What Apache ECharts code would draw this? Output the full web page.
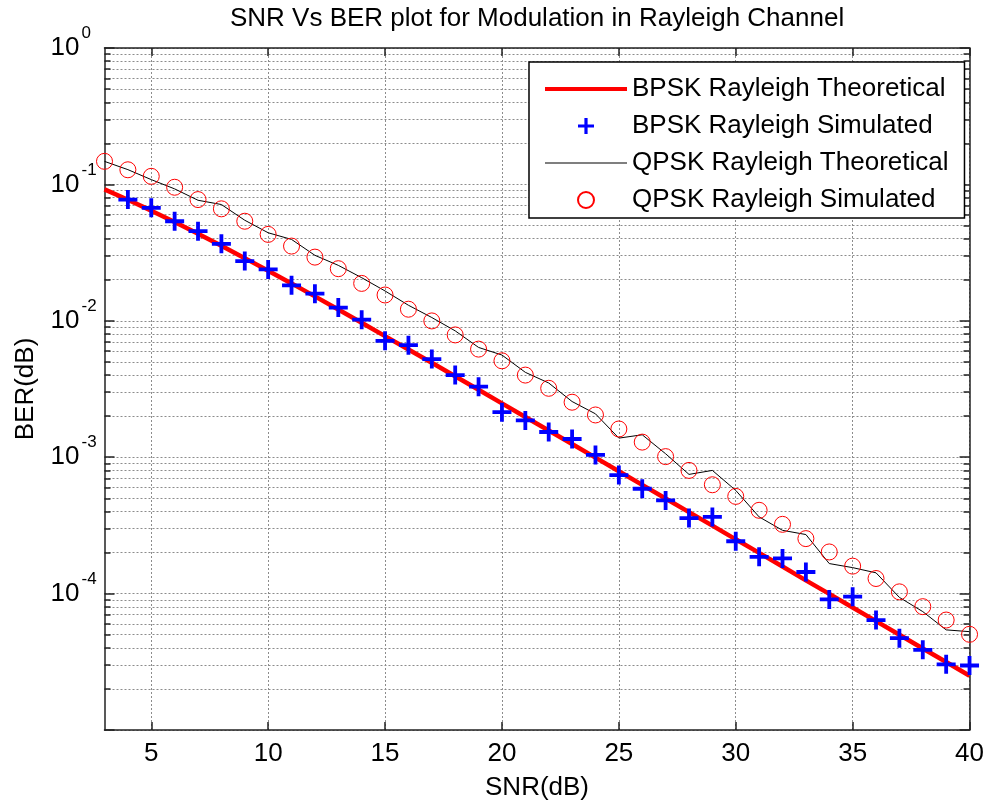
<!DOCTYPE html>
<html>
<head>
<meta charset="utf-8">
<script src="https://cdn.jsdelivr.net/npm/echarts@6/dist/echarts.min.js"></script>
<style>
  html, body { margin: 0; padding: 0; background: #fff; }
  #main { width: 987px; height: 806px; }
</style>
</head>
<body>
<div id="main"></div>
<script>
// SNR points (dB)
const snrTheory = [3, 4, 5, 6, 7, 8, 9, 10, 11, 12, 13, 14, 15, 16, 17, 18, 19, 20, 21,
  22, 23, 24, 25, 26, 27, 28, 29, 30, 31, 32, 33, 34, 35, 36, 37, 38, 39, 40];
const snrBpskSim = [4, 5, 6, 7, 8, 9, 10, 11, 12, 13, 14, 15, 16, 17, 18, 19, 20, 21,
  22, 23, 24, 25, 26, 27, 28, 29, 30, 31, 32, 33, 34, 35, 36, 37, 38, 39, 40];

// BER values
const bpskTheory = [0.0919, 0.0771, 0.0642, 0.0530, 0.0435, 0.0355, 0.0288, 0.0233, 0.0188,
  0.0151, 0.0121, 0.00967, 0.00772, 0.00616, 0.00492, 0.00392, 0.00312, 0.00248, 0.00197,
  0.00157, 0.00125, 0.000992, 0.000789, 0.000627, 0.000498, 0.000396, 0.000315, 0.000250,
  0.000199, 0.000158, 0.000125, 0.0000995, 0.0000791, 0.0000628, 0.0000499, 0.0000396,
  0.0000315, 0.0000250];
const bpskSim = [0.0774, 0.0673, 0.0537, 0.0454, 0.0367, 0.0274, 0.0238, 0.0182, 0.0158,
  0.0125, 0.0102, 0.00713, 0.00663, 0.00524, 0.0040, 0.00329, 0.00214, 0.00186, 0.00153,
  0.00136, 0.00104, 0.00074, 0.000587, 0.000482, 0.000358, 0.000365, 0.000242, 0.000186,
  0.000181, 0.000144, 0.0000907, 0.0000949, 0.000064, 0.0000471, 0.0000387, 0.0000303,
  0.0000297];
const qpskTheory = [0.1475, 0.1283, 0.1084, 0.0927, 0.0765, 0.0712, 0.0546, 0.0442, 0.0395,
  0.0302, 0.0255, 0.0207, 0.01655, 0.0130, 0.01057, 0.00844, 0.00638, 0.00561, 0.00419,
  0.0035, 0.00256, 0.00208, 0.00138, 0.00146, 0.00106, 0.000748, 0.0008, 0.000571, 0.000365,
  0.000291, 0.000271, 0.000166, 0.000155, 0.000142, 0.0000938, 0.0000738, 0.0000542,
  0.0000526];
const qpskSim = [0.1476, 0.128, 0.1146, 0.0953, 0.0774, 0.0662, 0.0537, 0.043, 0.0353,
  0.0293, 0.0241, 0.0188, 0.01546, 0.01216, 0.00998, 0.00788, 0.0062, 0.00509, 0.0040,
  0.0032, 0.00253, 0.00204, 0.00161, 0.00129, 0.00101, 0.0008, 0.000628, 0.000516,
  0.000408, 0.000322, 0.000253, 0.000202, 0.000159, 0.000129, 0.000103, 0.0000802,
  0.000064, 0.0000503];

// axis ticks
const xTicks = [5, 10, 15, 20, 25, 30, 35, 40];
const yDecades = [1e-5, 1e-4, 1e-3, 1e-2, 1e-1, 1];
const yLabelValues = [1e-4, 1e-3, 1e-2, 1e-1, 1];
const yExponents = ['-4', '-3', '-2', '-1', '0'];

const legendNames = ['BPSK Rayleigh Theoretical', 'BPSK Rayleigh Simulated',
  'QPSK Rayleigh Theoretical', 'QPSK Rayleigh Simulated'];

// minor log ticks 2..9 x 10^k
const yMinor = [];
yDecades.slice(0, -1).forEach(d => {
  for (let m = 2; m <= 9; m++) yMinor.push(+(m * d).toPrecision(3));
});
const yAllTicks = yDecades.concat(yMinor).sort((a, b) => a - b);

const zip = (xs, ys) => xs.map((x, i) => [x, ys[i]]);
const expOf = v => {
  const i = yLabelValues.findIndex(d => Math.abs(Math.log10(d) - Math.log10(v)) < 1e-6);
  return i >= 0 ? yExponents[i] : '';
};

const font = 'Liberation Sans, Arial, sans-serif';
const gridLine = { show: true, lineStyle: { color: '#8c8c8c', width: 1, type: [2, 2] } };
const axisLine = { show: true, onZero: false, lineStyle: { color: '#222', width: 1.5 } };
const tickStyle = { color: '#222', width: 1.5 };

const plusPath = 'path://M0,4H10V6H0Z M4,0H6V10H4Z';

const chart = echarts.init(document.getElementById('main'));

const logAxisBase = { type: 'log', logBase: 10, min: 1e-5, max: 1 };

const option = {
  backgroundColor: '#fff',
  animation: false,
  title: {
    text: 'SNR Vs BER plot for Modulation in Rayleigh Channel',
    left: 230,
    top: 6,
    padding: 0,
    textStyle: { fontFamily: font, fontSize: 26, fontWeight: 'normal', color: '#000' }
  },
  grid: { left: 104.5, right: 17, top: 48, bottom: 74 },
  legend: {
    data: [
      { name: legendNames[0], icon: 'path://M0,0H100V5H0Z' },
      { name: legendNames[1] },
      { name: legendNames[2], icon: 'path://M0,0H100V1.3H0Z' },
      { name: legendNames[3] }
    ],
    orient: 'vertical',
    left: 529,
    top: 62,
    padding: [14, 16, 5, 16],
    itemWidth: 82,
    itemHeight: 16,
    itemGap: 11,
    symbolKeepAspect: true,
    backgroundColor: '#fff',
    borderColor: '#000',
    borderWidth: 1.5,
    borderRadius: 0,
    textStyle: { fontFamily: font, fontSize: 26, color: '#000', lineHeight: 26 }
  },
  xAxis: [
    {
      type: 'value',
      min: 3,
      max: 40,
      name: 'SNR(dB)',
      nameLocation: 'middle',
      nameGap: 45,
      nameTextStyle: { fontFamily: font, fontSize: 26, color: '#000' },
      axisLine: axisLine,
      axisTick: { inside: true, length: 8, customValues: xTicks, lineStyle: tickStyle },
      axisLabel: { customValues: xTicks, margin: 11, fontFamily: font, fontSize: 26, color: '#000' },
      splitLine: gridLine
    },
    {
      type: 'value',
      position: 'top',
      min: 3,
      max: 40,
      axisLine: axisLine,
      axisTick: { inside: true, length: 8, customValues: xTicks, lineStyle: tickStyle },
      axisLabel: { show: false },
      splitLine: { show: false }
    }
  ],
  yAxis: [
    Object.assign({}, logAxisBase, {
      name: 'BER(dB)',
      nameLocation: 'middle',
      nameGap: 66,
      nameTextStyle: { fontFamily: font, fontSize: 26, color: '#000' },
      axisLine: axisLine,
      axisTick: { inside: true, length: 6, customValues: yAllTicks, lineStyle: tickStyle },
      axisLabel: {
        customValues: yLabelValues,
        margin: 25,
        formatter: () => '10',
        fontFamily: font,
        fontSize: 26,
        lineHeight: 26,
        padding: [6, 0, 0, 0],
        color: '#000'
      },
      splitLine: gridLine
    }),
    Object.assign({}, logAxisBase, {
      position: 'right',
      axisLine: axisLine,
      axisTick: { inside: true, length: 6, customValues: yAllTicks, lineStyle: tickStyle },
      axisLabel: { show: false },
      splitLine: { show: false }
    }),
    // exponent labels (superscripts) and longer decade ticks on the left
    Object.assign({}, logAxisBase, {
      position: 'left',
      axisLine: { show: false },
      axisTick: { show: true, inside: true, length: 10, customValues: yDecades, lineStyle: tickStyle },
      splitLine: { show: false },
      axisLabel: {
        customValues: yLabelValues,
        margin: 23,
        align: 'left',
        verticalAlign: 'bottom',
        formatter: v => expOf(v),
        fontFamily: font,
        fontSize: 17,
        lineHeight: 17,
        padding: [0, 0, 6, 0],
        color: '#000'
      }
    }),
    // longer decade ticks on the right
    Object.assign({}, logAxisBase, {
      position: 'right',
      axisLine: { show: false },
      axisTick: { show: true, inside: true, length: 10, customValues: yDecades, lineStyle: tickStyle },
      axisLabel: { show: false },
      splitLine: { show: false }
    })
  ],
  series: [
    {
      name: legendNames[0],
      type: 'line',
      data: zip(snrTheory, bpskTheory),
      symbol: 'none',
      lineStyle: { color: '#ff0000', width: 4.5 },
      itemStyle: { color: '#ff0000' },
      z: 3
    },
    {
      name: legendNames[1],
      type: 'scatter',
      data: zip(snrBpskSim, bpskSim),
      symbol: plusPath,
      symbolSize: 19,
      itemStyle: { color: '#0000ff', opacity: 1 },
      z: 4
    },
    {
      name: legendNames[2],
      type: 'line',
      data: zip(snrTheory, qpskTheory),
      symbol: 'none',
      lineStyle: { color: '#000', width: 1 },
      itemStyle: { color: '#000' },
      z: 3
    },
    {
      name: legendNames[3],
      type: 'scatter',
      data: zip(snrTheory, qpskSim),
      symbol: 'circle',
      symbolSize: 16,
      itemStyle: { color: 'rgba(0,0,0,0)', borderColor: '#ff0000', borderWidth: 1, opacity: 1 },
      z: 4
    }
  ]
};

chart.setOption(option);
</script>
</body>
</html>
